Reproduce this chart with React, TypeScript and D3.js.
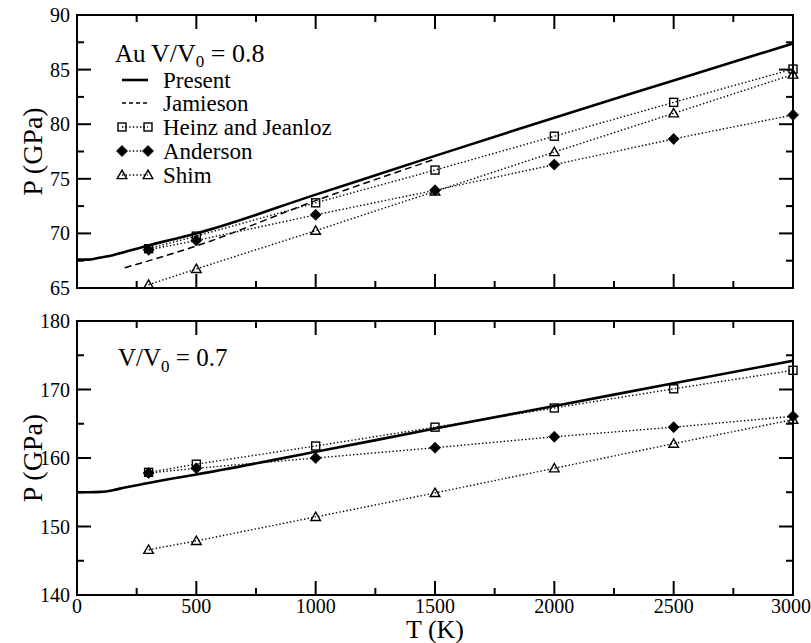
import React from "react";
import * as d3 from "d3";

// ---- data ----
const temps = [300, 500, 1000, 1500, 2000, 2500, 3000];

// V/V0 = 0.8 panel
const presentT08 = [0, 50, 100, 150, 200, 300, 400, 500, 1000, 1500, 2000, 2500, 3000];
const presentP08 = [67.6, 67.6, 67.8, 68.0, 68.3, 68.9, 69.45, 70.0, 73.55, 77.1, 80.6, 84.0, 87.4];
const jamiesonT08 = [200, 500, 1000, 1500];
const jamiesonP08 = [66.85, 68.85, 73.0, 76.8];
const heinz08 = [68.6, 69.75, 72.8, 75.8, 78.9, 82.0, 85.05];
const anderson08 = [68.5, 69.35, 71.7, 73.95, 76.3, 78.65, 80.85];
const shim08 = [65.3, 66.75, 70.25, 73.85, 77.45, 81.0, 84.55];

// V/V0 = 0.7 panel
const presentT07 = [0, 50, 100, 150, 200, 300, 400, 500, 1000, 1500, 2000, 2500, 3000];
const presentP07 = [155.0, 155.0, 155.05, 155.3, 155.7, 156.35, 157.0, 157.6, 160.9, 164.3, 167.6, 170.9, 174.2];
const heinz07 = [157.9, 159.1, 161.75, 164.5, 167.3, 170.1, 172.8];
const anderson07 = [157.8, 158.5, 160.0, 161.5, 163.1, 164.5, 166.1];
const shim07 = [146.6, 147.9, 151.4, 154.9, 158.5, 162.1, 165.6];

const xTicks = [0, 500, 1000, 1500, 2000, 2500, 3000];
const xMinor = [250, 750, 1250, 1750, 2250, 2750];
const yTicksTop = [65, 70, 75, 80, 85, 90];
const yMinorTop = [67.5, 72.5, 77.5, 82.5, 87.5];
const yTicksBot = [140, 150, 160, 170, 180];
const yMinorBot = [145, 155, 165, 175];

const legendLabels = ["Present", "Jamieson", "Heinz and Jeanloz", "Anderson", "Shim"];

const FF = "Liberation Serif";

const x = d3.scaleLinear().domain([0, 3000]).range([77, 793]);
const yTop = d3.scaleLinear().domain([65, 90]).range([288, 15]);
const yBot = d3.scaleLinear().domain([140, 180]).range([595, 321]);

function T(props: any) {
  const { fs, children, ...rest } = props;
  return <text {...rest} style={{ fontFamily: FF, fontSize: fs }}>{children}</text>;
}

function Square({ cx, cy }: { cx: number; cy: number }) {
  return <rect x={cx - 4} y={cy - 4} width={8} height={8} fill="none" stroke="#000" strokeWidth={1.4} />;
}
function Diamond({ cx, cy }: { cx: number; cy: number }) {
  const s = 5.5;
  return <path d={`M${cx},${cy - s}L${cx + s},${cy}L${cx},${cy + s}L${cx - s},${cy}Z`} fill="#000" stroke="#000" strokeWidth={0.8} />;
}
function Triangle({ cx, cy }: { cx: number; cy: number }) {
  const s = 4.8;
  return <path d={`M${cx},${cy - s}L${cx + s},${cy + s * 0.75}L${cx - s},${cy + s * 0.75}Z`} fill="none" stroke="#000" strokeWidth={1.4} />;
}

type Scale = d3.ScaleLinear<number, number>;

function Frame({ y, major, minor, showXLabels }: { y: Scale; major: number[]; minor: number[]; showXLabels: boolean }) {
  const [yb, yt] = y.range();
  const x0 = x(0), x1 = x(3000);
  const ML = 14, mL = 7;
  return (
    <g>
      {xTicks.map((t) => (
        <g key={"xm" + t}>
          <line x1={x(t)} x2={x(t)} y1={yb} y2={yb - ML} stroke="#000" strokeWidth={2} />
          <line x1={x(t)} x2={x(t)} y1={yt} y2={yt + ML} stroke="#000" strokeWidth={2} />
        </g>
      ))}
      {xMinor.map((t) => (
        <g key={"xn" + t}>
          <line x1={x(t)} x2={x(t)} y1={yb} y2={yb - mL} stroke="#000" strokeWidth={2} />
          <line x1={x(t)} x2={x(t)} y1={yt} y2={yt + mL} stroke="#000" strokeWidth={2} />
        </g>
      ))}
      {major.map((t) => (
        <g key={"ym" + t}>
          <line x1={x0} x2={x0 + ML} y1={y(t)} y2={y(t)} stroke="#000" strokeWidth={2} />
          <line x1={x1} x2={x1 - ML} y1={y(t)} y2={y(t)} stroke="#000" strokeWidth={2} />
          <T x={70} y={y(t)} dy="0.35em" textAnchor="end" fs={20}>{t}</T>
        </g>
      ))}
      {minor.map((t) => (
        <g key={"yn" + t}>
          <line x1={x0} x2={x0 + mL} y1={y(t)} y2={y(t)} stroke="#000" strokeWidth={2} />
          <line x1={x1} x2={x1 - mL} y1={y(t)} y2={y(t)} stroke="#000" strokeWidth={2} />
        </g>
      ))}
      <rect x={x0} y={yt} width={x1 - x0} height={yb - yt} fill="none" stroke="#000" strokeWidth={2} />
      {showXLabels && xTicks.map((t) => (
        <T key={"xl" + t} x={t === 3000 ? x(t) - 2 : x(t)} y={yb + 18} textAnchor="middle" fs={20}>{t}</T>
      ))}
    </g>
  );
}

function Series({ y, vals, kind }: { y: Scale; vals: number[]; kind: string }) {
  const pts: [number, number][] = temps.map((t, i) => [t, vals[i]]);
  const line = d3.line<[number, number]>().x((d) => x(d[0])).y((d) => y(d[1]));
  const M = kind === "sq" ? Square : kind === "di" ? Diamond : Triangle;
  return (
    <g>
      <path d={line(pts) || ""} fill="none" stroke="#000" strokeWidth={1.4} strokeDasharray="1.4 2.2" />
      {pts.map((p, i) => <M key={i} cx={x(p[0])} cy={y(p[1])} />)}
    </g>
  );
}

function Curve({ y, T: Ts, P, dash, width }: { y: Scale; T: number[]; P: number[]; dash?: string; width: number }) {
  const pts: [number, number][] = Ts.map((t, i) => [t, P[i]]);
  const line = d3.line<[number, number]>().x((d) => x(d[0])).y((d) => y(d[1])).curve(d3.curveMonotoneX);
  return <path d={line(pts) || ""} fill="none" stroke="#000" strokeWidth={width} strokeDasharray={dash} />;
}

export default function App() {
  const legY = [88, 111, 135, 159, 183];
  const lx0 = 122, lx1 = 148, tx = 163;
  return (
    <svg width={811} height={643} style={{ position: "absolute", left: 0, top: 0, background: "#fff", fontFamily: FF }}>
      <rect x={0} y={0} width={811} height={643} fill="#fff" />
      {/* top panel */}
      <Curve y={yTop} T={presentT08} P={presentP08} width={2.6} />
      <Curve y={yTop} T={jamiesonT08} P={jamiesonP08} width={1.5} dash="7 4" />
      <Series y={yTop} vals={heinz08} kind="sq" />
      <Series y={yTop} vals={anderson08} kind="di" />
      <Series y={yTop} vals={shim08} kind="tr" />
      <Frame y={yTop} major={yTicksTop} minor={yMinorTop} showXLabels={false} />

      {/* bottom panel */}
      <Curve y={yBot} T={presentT07} P={presentP07} width={2.6} />
      <Series y={yBot} vals={heinz07} kind="sq" />
      <Series y={yBot} vals={anderson07} kind="di" />
      <Series y={yBot} vals={shim07} kind="tr" />
      <Frame y={yBot} major={yTicksBot} minor={yMinorBot} showXLabels={true} />

      {/* legend */}
      <T x={115} y={62} fs={25}>Au</T>
      <T x={151} y={62} fs={26}>
        V/V
        <tspan style={{ fontSize: 17 }} dy={5}>0</tspan>
        <tspan dy={-5}> = 0.8</tspan>
      </T>
      <line x1={lx0} x2={lx1} y1={legY[0] - 8} y2={legY[0] - 8} stroke="#000" strokeWidth={2.6} />
      <line x1={lx0} x2={lx1} y1={legY[1] - 8} y2={legY[1] - 8} stroke="#000" strokeWidth={1.5} strokeDasharray="4 3" />
      {[2, 3, 4].map((i) => {
        const M = i === 2 ? Square : i === 3 ? Diamond : Triangle;
        const yy = legY[i] - 8;
        return (
          <g key={i}>
            <line x1={lx0} x2={lx1} y1={yy} y2={yy} stroke="#000" strokeWidth={1.4} strokeDasharray="1.4 2.2" />
            <M cx={lx0} cy={yy} />
            <M cx={lx1} cy={yy} />
          </g>
        );
      })}
      {legendLabels.map((l, i) => (
        <T key={l} x={tx} y={legY[i]} fs={23}>{l}</T>
      ))}

      <T x={118} y={366} fs={25}>
        V/V
        <tspan style={{ fontSize: 17 }} dy={6}>0</tspan>
        <tspan dy={-6}> = 0.7</tspan>
      </T>

      {/* axis titles */}
      <T transform={`translate(42,${(15 + 288) / 2}) rotate(-90)`} textAnchor="middle" fs={28}>P  (GPa)</T>
      <T transform={`translate(42,${(321 + 595) / 2}) rotate(-90)`} textAnchor="middle" fs={28}>P  (GPa)</T>
      <T x={435} y={638} textAnchor="middle" fs={26}>T  (K)</T>
    </svg>
  );
}
